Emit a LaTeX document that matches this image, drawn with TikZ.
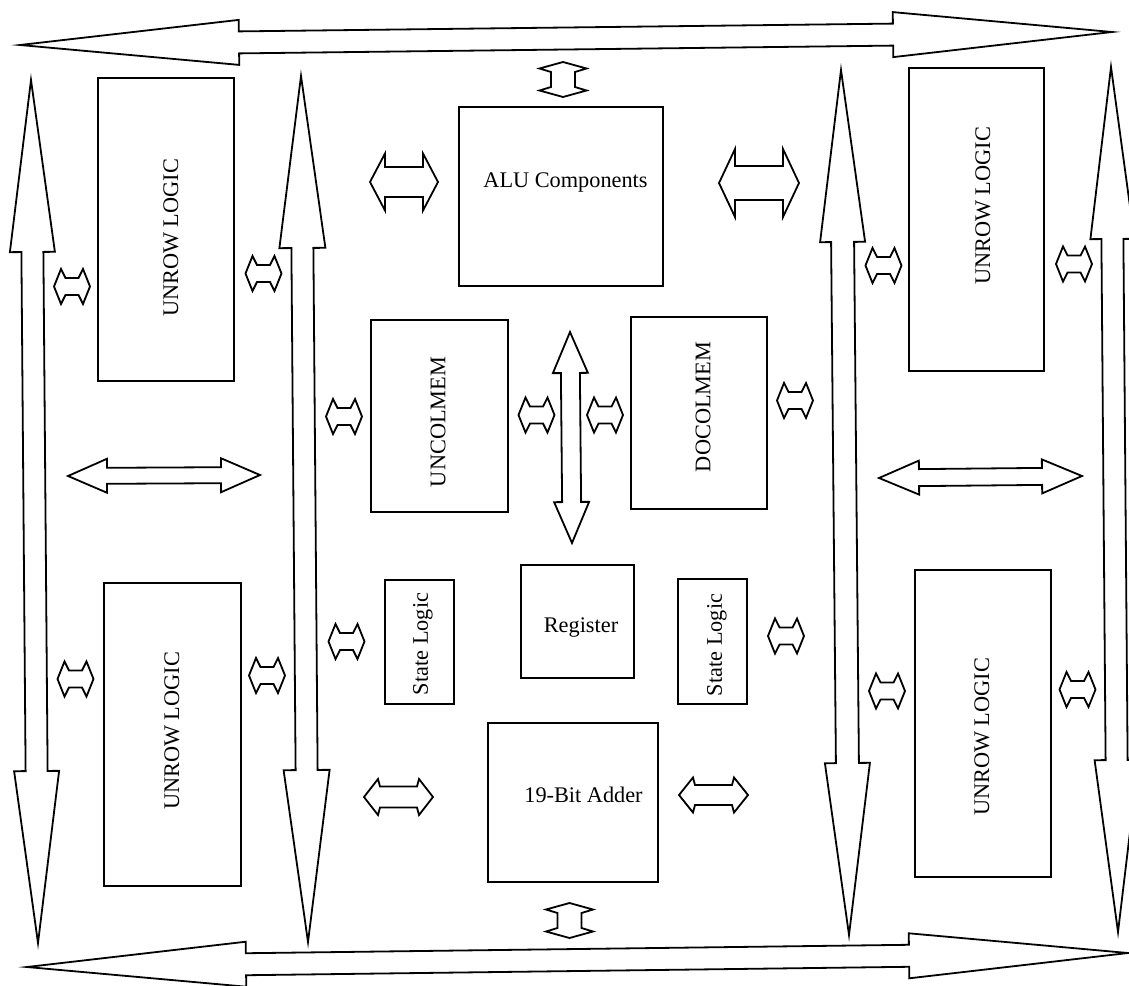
\documentclass[tikz,border=0pt]{standalone}
\usepackage{fontspec}
\setmainfont{Liberation Serif}
\usetikzlibrary{calc}

\tikzset{
  unit/.style={draw=black, line width=2.2pt, fill=white, inner sep=0pt, outer sep=0pt},
  arrowline/.style={draw=black, line width=1.8pt, fill=white, line join=miter},
  lbl/.style={inner sep=0pt, font=\fontsize{22.3}{26}\selectfont},
  vlbl/.style={lbl, rotate=90},
}

% Outlined double-headed block arrow between two tip coordinates.
% #1 name, #2 tip A, #3 tip B, #4 distance of head corners from tip,
% #5 distance where the shaft starts, #6 head half-width, #7 shaft half-width
\newcommand{\blockarrow}[7]{%
  \coordinate (#1-a) at #2;
  \coordinate (#1-b) at #3;
  \draw[arrowline] (#1-a)
    -- ($(#1-a)!#4!(#1-b)!#6!90:(#1-b)$)
    -- ($(#1-a)!#5!(#1-b)!#7!90:(#1-b)$)
    -- ($(#1-b)!#5!(#1-a)!#7!-90:(#1-a)$)
    -- ($(#1-b)!#4!(#1-a)!#6!-90:(#1-a)$)
    -- (#1-b)
    -- ($(#1-b)!#4!(#1-a)!#6!90:(#1-a)$)
    -- ($(#1-b)!#5!(#1-a)!#7!90:(#1-a)$)
    -- ($(#1-a)!#5!(#1-b)!#7!-90:(#1-b)$)
    -- ($(#1-a)!#4!(#1-b)!#6!-90:(#1-b)$)
    -- cycle;
}
% short links between a unit and a bus
\newcommand{\hlink}[3]{\blockarrow{#1}{({#2-18},#3)}{({#2+18},#3)}{7pt}{11.5pt}{17.5pt}{8.5pt}}
\newcommand{\vlink}[3]{\blockarrow{#1}{(#2,{#3-17.5})}{(#2,{#3+17.5})}{6.5pt}{10pt}{23.5pt}{12pt}}

\begin{document}
\begin{tikzpicture}[x=1pt,y=-1pt]
\useasboundingbox (0,0) rectangle (1129,985);
\fill[white] (0,0) rectangle (1129,985);
\clip (0,0) rectangle (1129,985);

% buses
\blockarrow{topbus}{(20,45)}{(1112,32)}{219pt}{219pt}{22.5pt}{11pt}
\blockarrow{botbus}{(27,967)}{(1128,953)}{219pt}{219pt}{22.5pt}{11pt}
\blockarrow{lobus}{(31,80)}{(38,943)}{172pt}{172pt}{22.5pt}{11pt}
\blockarrow{libus}{(301,76)}{(308,942)}{172pt}{172pt}{23pt}{11pt}
\blockarrow{ribus}{(841,70)}{(849,935)}{172pt}{172pt}{22.5pt}{11.5pt}
\blockarrow{robus}{(1111,67)}{(1118,932)}{172pt}{172pt}{22pt}{11pt}

% units
\node[unit, minimum width=204pt, minimum height=179pt] (alu) at (561,196.5) {};
\node[lbl] at (565.5,182.5) {ALU Components};

\node[unit, minimum width=136pt, minimum height=303pt] (urtl) at (166,229.5) {};
\node[vlbl] at (171,238) {UNROW LOGIC};
\node[unit, minimum width=137pt, minimum height=303pt] (urbl) at (172.5,734.5) {};
\node[vlbl] at (172,731) {UNROW LOGIC};
\node[unit, minimum width=135pt, minimum height=303pt] (urtr) at (976.5,219.5) {};
\node[vlbl] at (983,206) {UNROW LOGIC};
\node[unit, minimum width=136pt, minimum height=307pt] (urbr) at (983,723.5) {};
\node[vlbl] at (982,737) {UNROW LOGIC};

\node[unit, minimum width=137pt, minimum height=192pt] (uncol) at (439.5,416) {};
\node[vlbl] at (438,422) {UNCOLMEM};
\node[unit, minimum width=136pt, minimum height=192pt] (docol) at (699,413) {};
\node[vlbl] at (703,407) {DOCOLMEM};

\node[unit, minimum width=69pt, minimum height=124pt] (stl) at (419.5,642) {};
\node[vlbl] at (423,644) {State Logic};
\node[unit, minimum width=113pt, minimum height=113pt] (reg) at (577.5,621.5) {};
\node[lbl] at (581,628) {Register};
\node[unit, minimum width=69pt, minimum height=125pt] (str) at (712.5,641.5) {};
\node[vlbl] at (717,645) {State Logic};

\node[unit, minimum width=170pt, minimum height=159pt] (adder) at (573,802.5) {};
\node[lbl] at (583.5,795) {19-Bit Adder};

% links
\vlink{aluup}{563}{79.5}
\vlink{adddn}{569.5}{920.5}
\blockarrow{alul}{(370,182)}{(438,182)}{15pt}{15pt}{28.5pt}{15pt}
\blockarrow{alur}{(719,183)}{(799,183)}{16pt}{16pt}{34pt}{17pt}
\blockarrow{addl}{(364,797)}{(433,797)}{14pt}{16pt}{18pt}{10.5pt}
\blockarrow{addr}{(679,795)}{(748,795)}{14pt}{16pt}{17.5pt}{10pt}
\blockarrow{midl}{(68,476)}{(260,475)}{39pt}{39pt}{17pt}{8pt}
\blockarrow{midr}{(879,478)}{(1082,476)}{40pt}{40pt}{17pt}{8.5pt}
\blockarrow{regbus}{(570,332)}{(572,543)}{41pt}{41pt}{17.5pt}{9.5pt}

\hlink{l1}{72}{286.5}
\hlink{l2}{263.5}{273.5}
\hlink{l3}{883.5}{265.5}
\hlink{l4}{1074}{264}
\hlink{l5}{75.5}{679}
\hlink{l6}{267}{675.5}
\hlink{l7}{887}{691}
\hlink{l8}{1077.5}{689.5}
\hlink{l9}{344}{416.5}
\hlink{l10}{536.5}{415}
\hlink{l11}{605}{415}
\hlink{l12}{795}{400.5}
\hlink{l13}{346.5}{641.5}
\hlink{l14}{786}{636}
\end{tikzpicture}
\end{document}
